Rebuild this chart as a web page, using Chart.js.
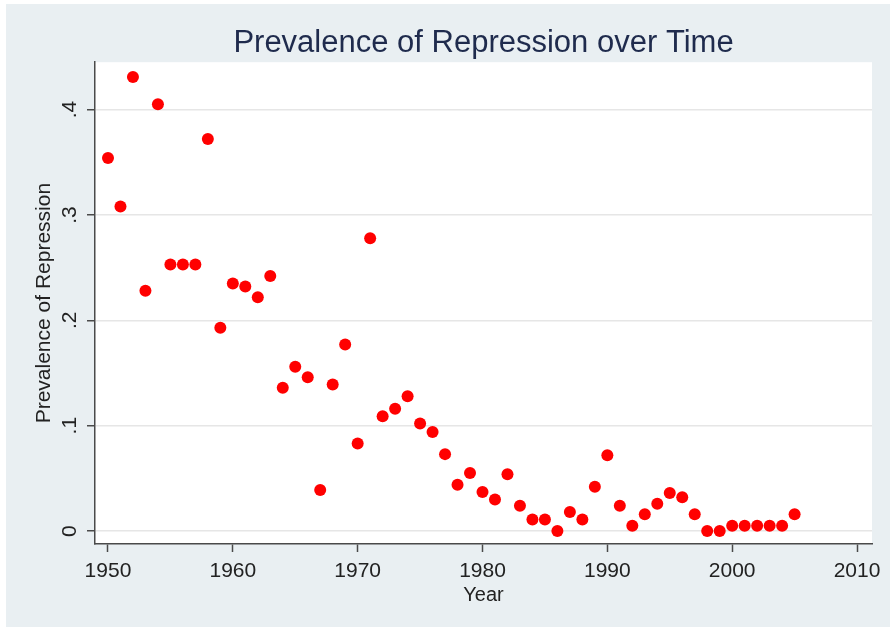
<!DOCTYPE html>
<html>
<head>
<meta charset="utf-8">
<script src="https://cdn.jsdelivr.net/npm/chart.js@4/dist/chart.umd.min.js"></script>
<style>
  html, body { margin: 0; padding: 0; background: #ffffff; }
  canvas { display: block; }
</style>
</head>
<body>
<canvas id="repressionChart" width="890" height="627"></canvas>
<script>
let years = [1950, 1951, 1952, 1953, 1954, 1955, 1956, 1957, 1958, 1959,
             1960, 1961, 1962, 1963, 1964, 1965, 1966, 1967, 1968, 1969,
             1970, 1971, 1972, 1973, 1974, 1975, 1976, 1977, 1978, 1979,
             1980, 1981, 1982, 1983, 1984, 1985, 1986, 1987, 1988, 1989,
             1990, 1991, 1992, 1993, 1994, 1995, 1996, 1997, 1998, 1999,
             2000, 2001, 2002, 2003, 2004, 2005];
let prevalence = [0.354, 0.308, 0.431, 0.228, 0.405, 0.253, 0.253, 0.253, 0.372, 0.193,
                  0.235, 0.232, 0.222, 0.242, 0.136, 0.156, 0.146, 0.039, 0.139, 0.177,
                  0.083, 0.278, 0.109, 0.116, 0.128, 0.102, 0.094, 0.073, 0.044, 0.055,
                  0.037, 0.030, 0.054, 0.024, 0.011, 0.011, 0.000, 0.018, 0.011, 0.042,
                  0.072, 0.024, 0.005, 0.016, 0.026, 0.036, 0.032, 0.016, 0.000, 0.000,
                  0.005, 0.005, 0.005, 0.005, 0.005, 0.016];
let xTicks = [1950, 1960, 1970, 1980, 1990, 2000, 2010];
let yTicks = [0, 0.1, 0.2, 0.3, 0.4];

let fontFamily = "'Liberation Sans', Arial, sans-serif";
let axisColor = '#4a4a4a';

// light panel behind everything, white plot region
let panelBackground = {
    id: 'panelBackground',
    beforeDraw: function (chart) {
        let ctx = chart.ctx;
        let area = chart.chartArea;
        ctx.save();
        ctx.fillStyle = '#ffffff';
        ctx.fillRect(0, 0, chart.width, chart.height);
        ctx.fillStyle = '#e9eff2';
        ctx.fillRect(6, 4, chart.width - 6, chart.height - 4);
        ctx.fillStyle = '#ffffff';
        ctx.fillRect(area.left, area.top, area.right - area.left, area.bottom - area.top);
        ctx.restore();
    }
};

let points = years.map(function (y, i) {
    return { x: y, y: prevalence[i] };
});

let ctx = document.getElementById('repressionChart').getContext('2d');

window.repressionChart = new Chart(ctx, {
    type: 'scatter',
    data: {
        datasets: [{
            label: 'Prevalence of Repression',
            data: points,
            backgroundColor: '#ff0000',
            borderWidth: 0,
            pointRadius: 6,
            pointHoverRadius: 6
        }]
    },
    options: {
        responsive: false,
        animation: false,
        layout: {
            padding: { left: 6, top: 4, right: 18, bottom: 0 }
        },
        plugins: {
            legend: { display: false },
            tooltip: { enabled: false },
            title: {
                display: true,
                fullSize: false,
                text: 'Prevalence of Repression over Time',
                color: '#1f2b4d',
                font: { family: fontFamily, size: 31, weight: 'normal' },
                padding: { top: 21, bottom: 0 }
            }
        },
        scales: {
            x: {
                type: 'linear',
                min: 1948.96,
                max: 2011.2,
                afterBuildTicks: function (scale) {
                    scale.ticks = xTicks.map(function (v) { return { value: v }; });
                },
                afterFit: function (scale) {
                    scale.height = 83;
                },
                border: { display: true, color: axisColor, width: 1.5 },
                grid: {
                    drawOnChartArea: false,
                    drawTicks: true,
                    tickLength: 8,
                    tickColor: axisColor,
                    tickWidth: 1.5
                },
                ticks: {
                    color: '#222222',
                    font: { family: fontFamily, size: 21 },
                    padding: 7,
                    maxRotation: 0,
                    callback: function (v) { return String(v); }
                },
                title: {
                    display: true,
                    text: 'Year',
                    color: '#222222',
                    font: { family: fontFamily, size: 20 },
                    padding: { top: 0, bottom: 20 }
                }
            },
            y: {
                type: 'linear',
                min: -0.0123,
                max: 0.445,
                afterBuildTicks: function (scale) {
                    scale.ticks = yTicks.map(function (v) { return { value: v }; });
                },
                afterFit: function (scale) {
                    scale.width = 89;
                },
                border: { display: true, color: axisColor, width: 1.5 },
                grid: {
                    color: '#e6e6e6',
                    lineWidth: 1.5,
                    drawTicks: true,
                    tickLength: 8,
                    tickColor: axisColor,
                    tickWidth: 1.5
                },
                ticks: {
                    color: '#222222',
                    font: { family: fontFamily, size: 21 },
                    minRotation: 90,
                    maxRotation: 90,
                    crossAlign: 'center',
                    padding: 8,
                    callback: function (v) {
                        if (v === 0) return '0';
                        return v.toFixed(1).replace(/^0/, '');
                    }
                },
                title: {
                    display: true,
                    text: 'Prevalence of Repression',
                    color: '#222222',
                    font: { family: fontFamily, size: 21 },
                    padding: { top: 26, bottom: 0 }
                }
            }
        }
    },
    plugins: [panelBackground]
});
</script>
</body>
</html>
